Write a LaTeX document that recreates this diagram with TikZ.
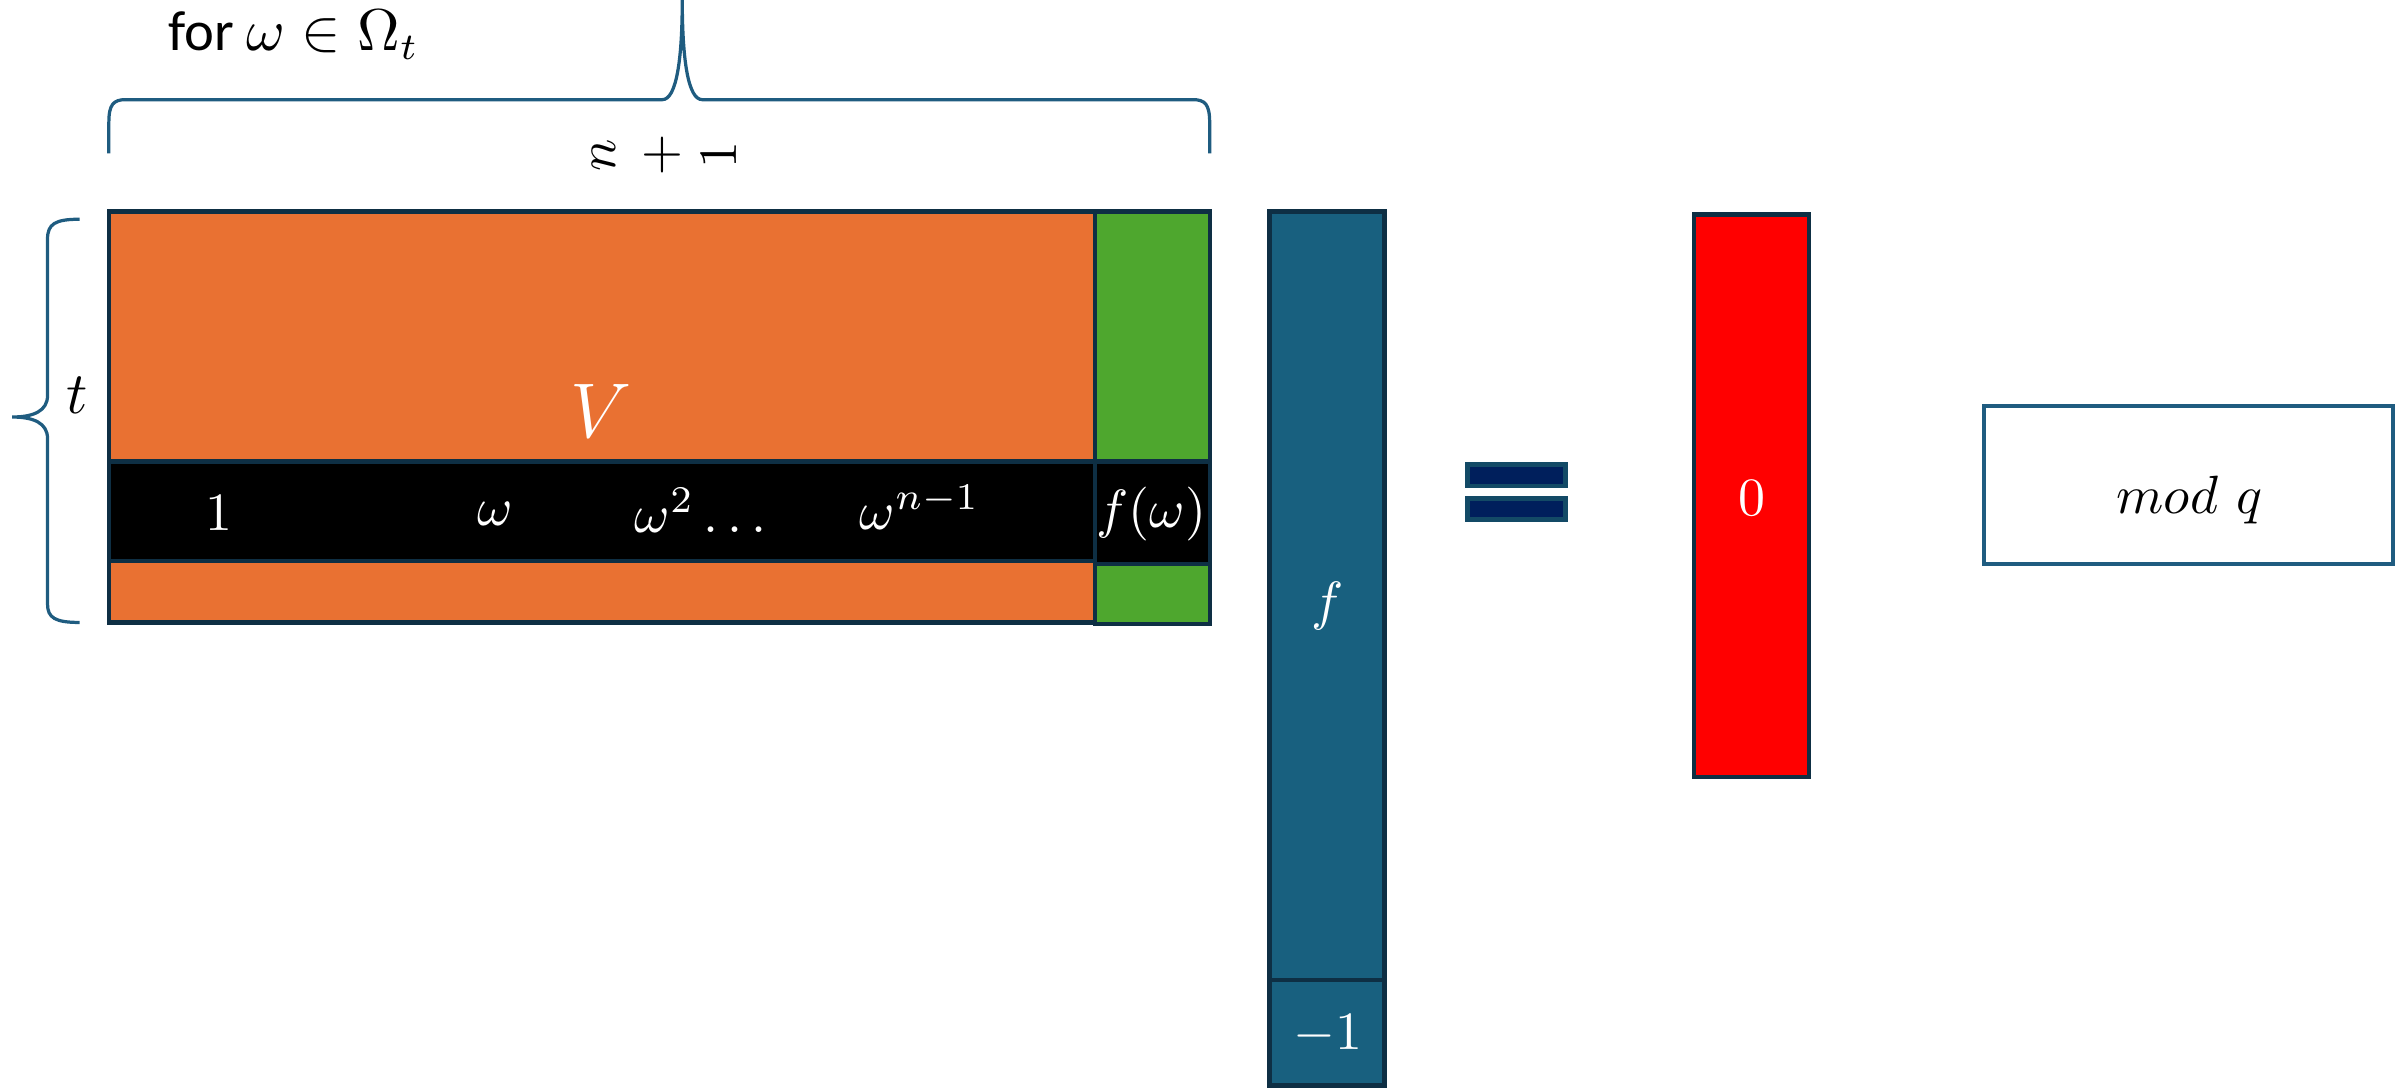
\documentclass[tikz,border=0pt]{standalone}
\usepackage{amsmath,amssymb}
\usepackage{fontspec}
\newfontfamily\forfont{Carlito}
\definecolor{vorange}{HTML}{E97132}
\definecolor{vgreen}{HTML}{4EA72E}
\definecolor{fblue}{HTML}{18607F}
\definecolor{edgecol}{HTML}{0E2F44}
\definecolor{bracecol}{HTML}{1F5C80}
\definecolor{eqfill}{HTML}{001F5C}
\definecolor{eqedge}{HTML}{134A66}
\tikzset{
  cell/.style={draw=edgecol, line width=0.8pt},
  entry/.style={text=white, font=\fontsize{10}{12}\selectfont},
  brace/.style={draw=bracecol, line width=0.6pt},
}

\begin{document}
\begin{tikzpicture}[x=0.1mm, y=-0.1mm]
\useasboundingbox (0,0) rectangle (1568,710);
% matrix V with the row for omega
\fill[vorange] (71,138) rectangle (714,406);
\fill[black] (71,301) rectangle (714,366);
\draw[cell] (71,301) -- (714,301) (71,366) -- (714,366);
\draw[cell] (71,138) rectangle (714,406);
\fill[vgreen] (714,138) rectangle (789,407);
\draw[cell, fill=black] (714,301) rectangle (789,368);
\draw[cell] (714,138) rectangle (789,407);
\node[entry, font=\fontsize{14}{16}\selectfont] (V) at (392,268) {$V$};
\node[entry] (one) at (143,335) {$1$};
\node[entry] (w1) at (323,335) {$\omega$};
\node[entry] (w2) at (457,333) {$\omega^2\ldots$};
\node[entry] (wn) at (600,331) {$\omega^{n-1}$};
\node[entry] (fw) at (751,335) {$f(\omega)$};
% vector f
\draw[cell, fill=fblue] (828,138) rectangle (903,639);
\draw[cell, fill=fblue] (828,639) rectangle (903,708);
\node[entry] (f) at (866,395) {$f$};
\node[entry] (m1) at (866,675) {$-1$};
% equals
\draw[draw=eqedge, line width=0.9pt, fill=eqfill] (957,303) rectangle (1021,317);
\draw[draw=eqedge, line width=0.9pt, fill=eqfill] (957,325) rectangle (1021,339);
% zero vector
\draw[cell, fill=red] (1105,140) rectangle (1180,507);
\node[entry] (zero) at (1143,325) {$0$};
% modulus
\draw[draw=bracecol, line width=0.8pt] (1294,265) rectangle (1561,368);
\node[font=\fontsize{10}{12}\selectfont] (modq) at (1428,326) {$mod\ q$};
% braces
\draw[brace] (71,100) -- (71,80) .. controls (71,68) and (74,65) .. (82,65)
  -- (432,65) .. controls (441,65) and (445,40) .. (445,0)
  .. controls (445,40) and (449,65) .. (458,65) -- (778,65)
  .. controls (786,65) and (789,68) .. (789,80) -- (789,100);
\draw[brace] (52,143) .. controls (36,143) and (31,146) .. (31,156)
  -- (31,258) .. controls (31,268) and (22,272) .. (8,272)
  .. controls (22,272) and (31,276) .. (31,286)
  -- (31,394) .. controls (31,403) and (36,406) .. (52,406);
\node[font=\fontsize{11}{13}\selectfont] (tlbl) at (50,258) {$t$};
\node[font=\fontsize{10.5}{12}\selectfont, anchor=base west, inner sep=0pt] (forlbl) at (109,33) {\forfont for $\omega \in \Omega_t$};
\node[rotate=90, font=\fontsize{10}{12}\selectfont] (nlbl) at (394,101) {$n$};
\node[font=\fontsize{10}{12}\selectfont] (plus) at (432,101) {$+$};
\node[rotate=90, font=\fontsize{10}{12}\selectfont] (onelbl) at (469,101) {$1$};
\end{tikzpicture}
\end{document}
